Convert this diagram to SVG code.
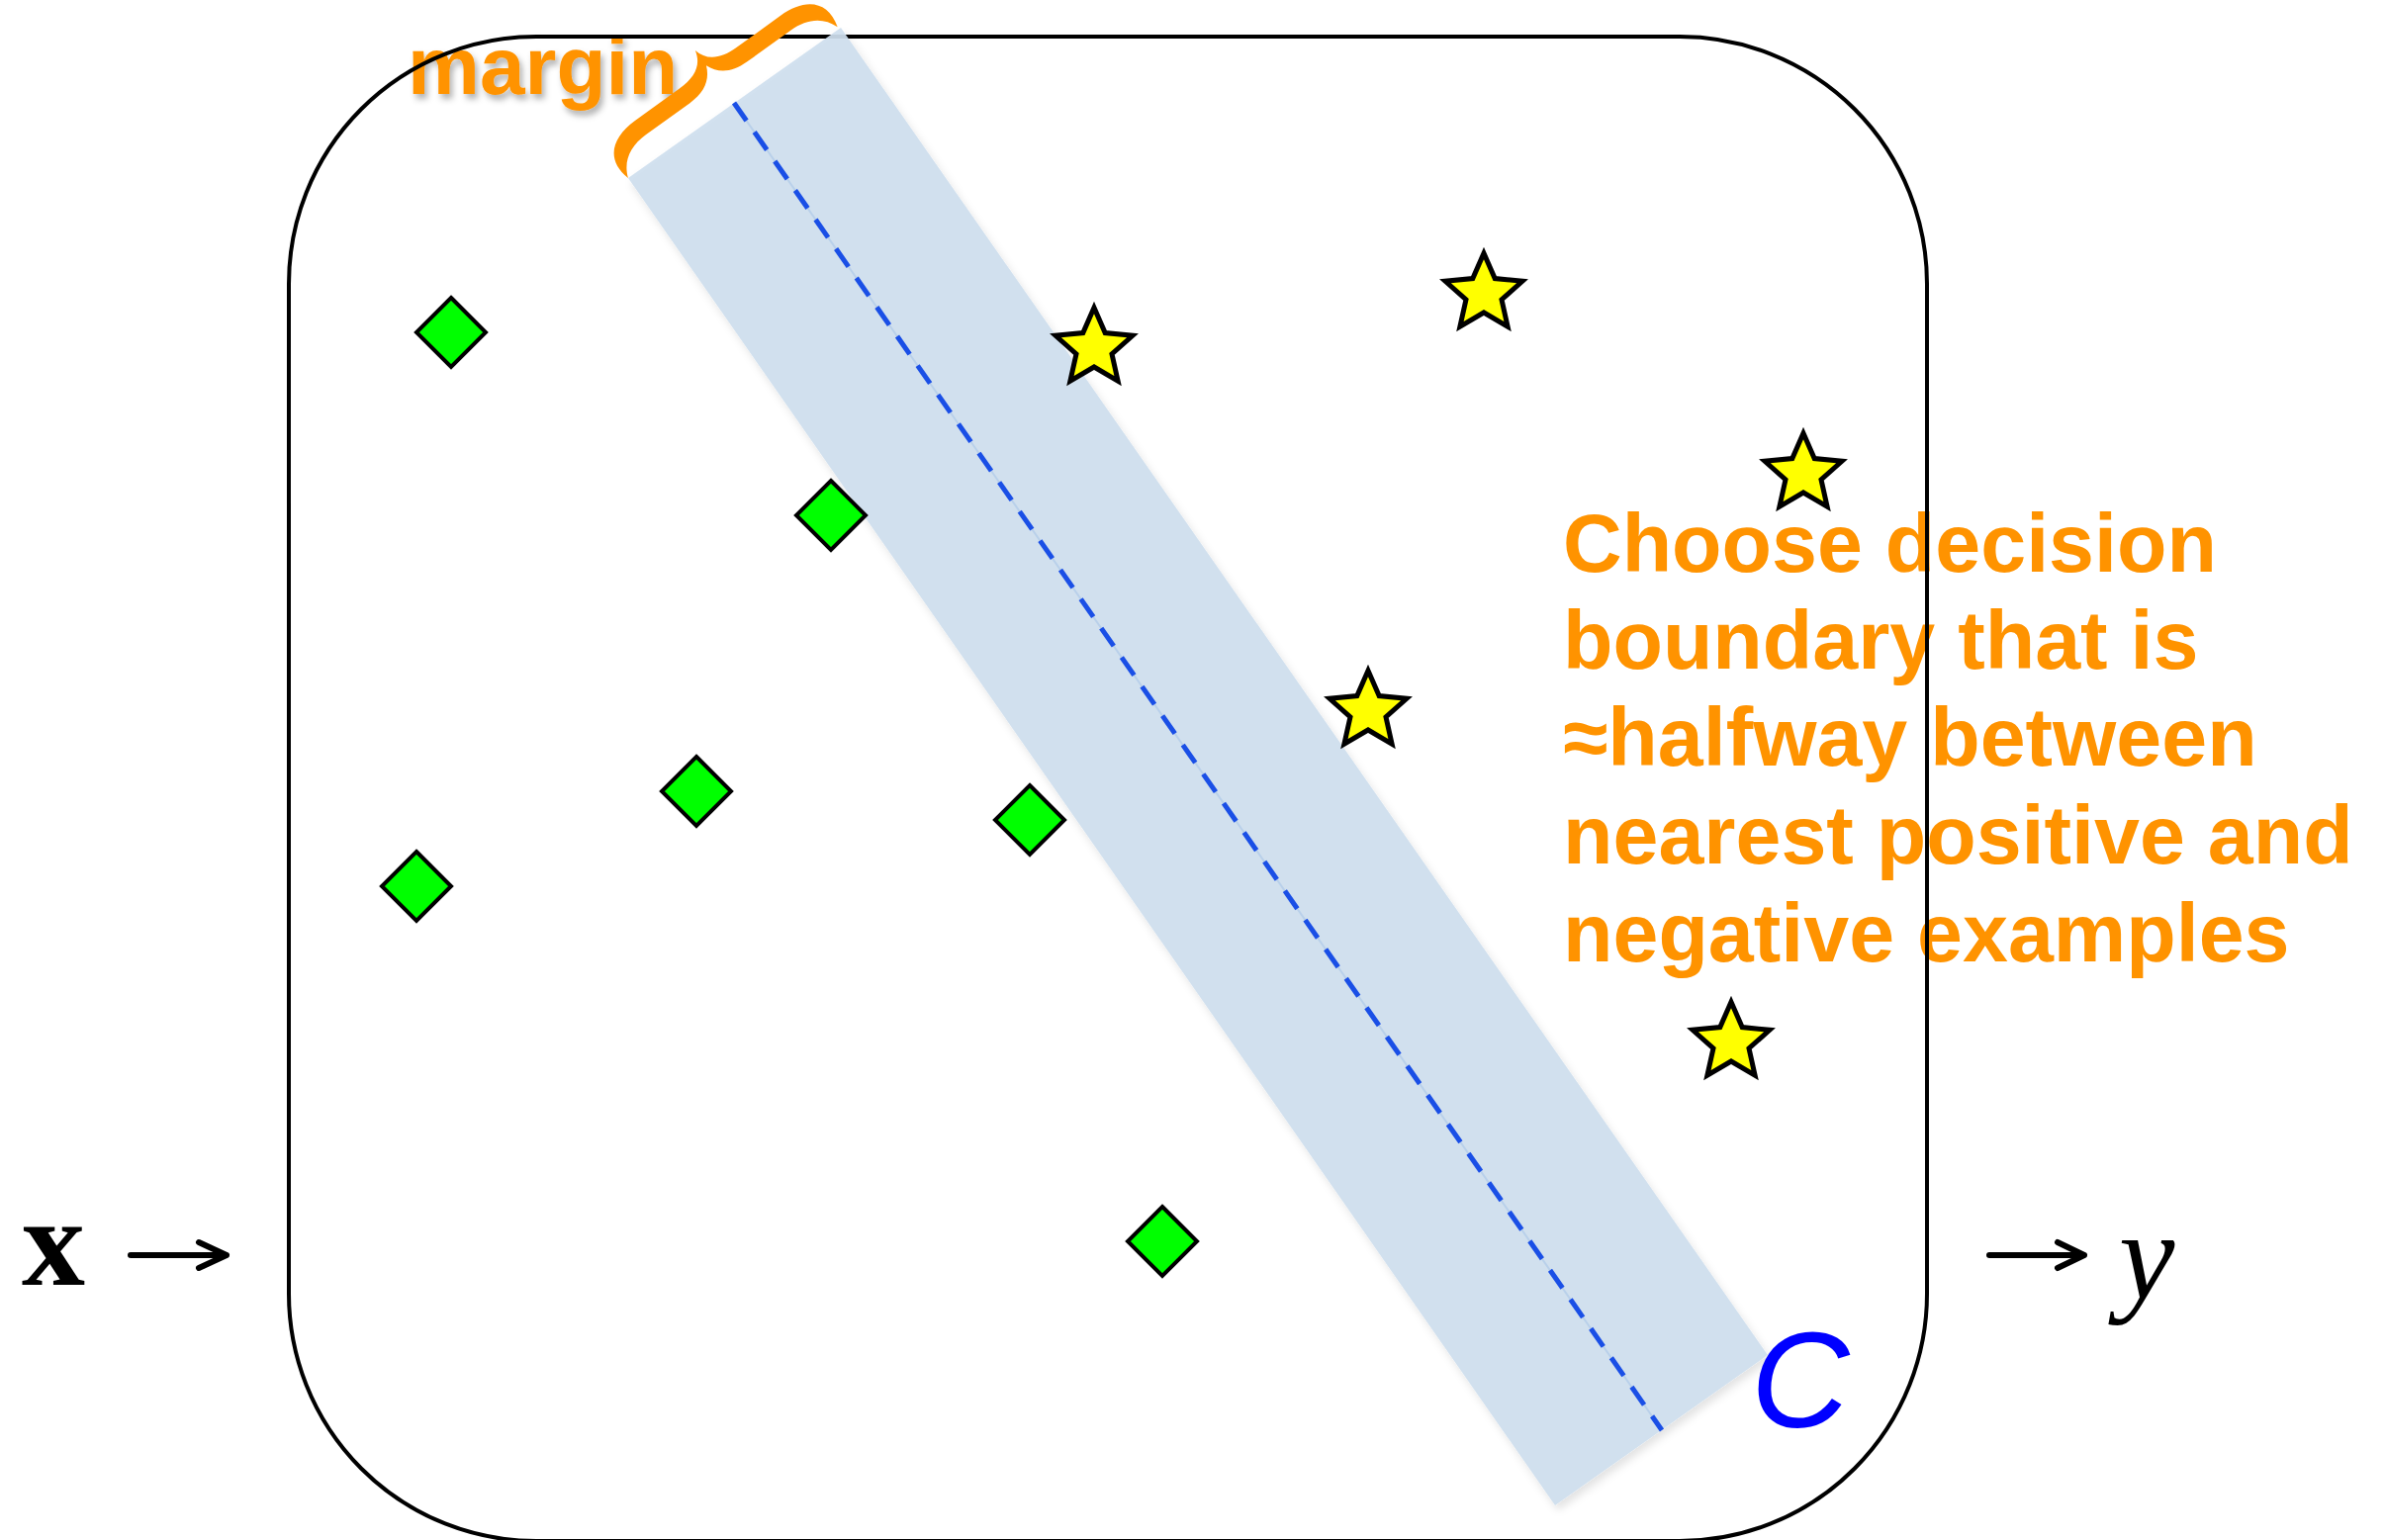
<svg xmlns="http://www.w3.org/2000/svg" width="2411" height="1557" viewBox="0 0 2411 1557">
<style>
.orange{fill:#FF9300;font-family:"Liberation Sans",Arial,Helvetica,sans-serif;font-weight:bold}
.diamond{fill:#00FF00;stroke:#000;stroke-width:4;stroke-linejoin:miter}
.star{fill:#FFFF00;stroke:#000;stroke-width:5;stroke-linejoin:miter}
.arrow{fill:none;stroke:#000;stroke-width:6;stroke-linecap:round;stroke-linejoin:round}
.serif{fill:#000;font-family:"Liberation Serif","Times New Roman",serif}
</style>
<defs>
<filter id="textShadow" x="-10%" y="-20%" width="130%" height="160%">
<feDropShadow dx="3" dy="5" stdDeviation="3" flood-color="#000" flood-opacity="0.3"/>
</filter>
<filter id="bandShadow" x="-10%" y="-10%" width="120%" height="120%">
<feDropShadow dx="3" dy="5" stdDeviation="4" flood-color="#000" flood-opacity="0.12"/>
</filter>
<path id="dia" d="M0,-35 L35,0 L0,35 L-35,0 Z"/>
<polygon id="st" points="0,-41 11.2,-15.4 39,-12.7 18,5.9 24.1,33.2 0,19 -24.1,33.2 -18,5.9 -39,-12.7 -11.2,-15.4"/>
</defs>
<rect width="2411" height="1557" fill="#fff"/>

<g id="explanation">
<text class="orange" font-size="82.6" x="1580" y="578">Choose decision</text>
<text class="orange" font-size="82.6" x="1580" y="676">boundary that is</text>
<text class="orange" font-size="82.6" x="1580" y="774">≈halfway between</text>
<text class="orange" font-size="82.6" x="1580" y="873">nearest positive and</text>
<text class="orange" font-size="82.6" x="1580" y="972">negative examples</text>
</g>

<g id="margin-label">
<text class="orange" font-size="82" x="412" y="95" filter="url(#textShadow)">margin</text>
</g>

<g id="classifier">
<rect x="292" y="37" width="1656" height="1521" rx="250" ry="250" fill="none" stroke="#000" stroke-width="4"/>
</g>

<g id="margin-band">
<polygon points="635,180 850,28 1787,1370 1572,1522" fill="#CFDFEE" fill-opacity="0.93" filter="url(#bandShadow)"/>
</g>

<g id="margin-brace" transform="translate(635,180) rotate(-35.8)">
<path fill="#FF9300" d="M0,0 C-8,-28 10,-43 40,-43 L95,-43 C115,-43 127,-50 130.5,-65 C134,-50 146,-43 166,-43 L221,-43 C251,-43 269,-28 261,0 C255,-17 240,-25 221,-25 L166,-25 C148,-25 136,-32 130.5,-46 C125,-32 113,-25 95,-25 L40,-25 C21,-25 6,-17 0,0 Z"/>
</g>

<g id="decision-boundary">
<line x1="742" y1="104" x2="1680" y2="1446" stroke="#B9D0EA" stroke-width="2"/>
<line x1="742" y1="104" x2="1680" y2="1446" stroke="#1A4FE6" stroke-width="5" stroke-dasharray="22 14"/>
</g>

<g id="negatives">
<use id="neg1" href="#dia" class="diamond" x="456" y="336"/>
<use id="neg2" href="#dia" class="diamond" x="840" y="521"/>
<use id="neg3" href="#dia" class="diamond" x="704" y="800"/>
<use id="neg4" href="#dia" class="diamond" x="421" y="896"/>
<use id="neg5" href="#dia" class="diamond" x="1041" y="829"/>
<use id="neg6" href="#dia" class="diamond" x="1175" y="1255"/>
</g>

<g id="positives">
<use id="pos1" href="#st" class="star" x="1106" y="352"/>
<use id="pos2" href="#st" class="star" x="1500" y="297"/>
<use id="pos3" href="#st" class="star" x="1823" y="479"/>
<use id="pos4" href="#st" class="star" x="1383" y="719"/>
<use id="pos5" href="#st" class="star" x="1750" y="1054"/>
</g>

<g id="classifier-label">
<text x="1770" y="1443" font-size="138" font-style="italic" fill="#0000FF" font-family="'Liberation Sans',Arial,Helvetica,sans-serif">C</text>
</g>

<g id="input">
<text class="serif" x="22" y="1299" font-size="128" font-weight="bold">x</text>
</g>
<g id="output">
<text class="serif" x="2142" y="1313" font-size="127" font-style="italic">y</text>
</g>

<g id="connectors">
<path class="arrow" d="M132,1269 L229,1269 M201,1256 L229,1269 L201,1282"/>
<path class="arrow" d="M2011,1269 L2107,1269 M2080,1256 L2107,1269 L2080,1282"/>
</g>
</svg>
